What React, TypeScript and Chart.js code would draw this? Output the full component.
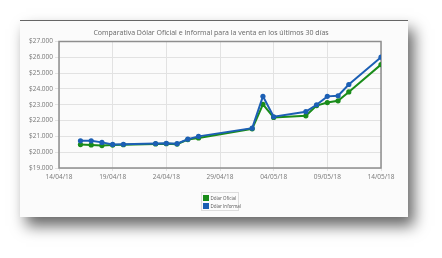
import React, { useEffect, useRef } from "react";
import { Chart, registerables } from "chart.js";

Chart.register(...registerables);

const chartTitle = "Comparativa Dólar Oficial e Informal para la venta en los últimos 30 días";
const startDate = "14/04/18";
const dates = [
  "16/04/18", "17/04/18", "18/04/18", "19/04/18", "20/04/18", "23/04/18", "24/04/18",
  "25/04/18", "26/04/18", "27/04/18", "02/05/18", "03/05/18", "04/05/18", "07/05/18",
  "08/05/18", "09/05/18", "10/05/18", "11/05/18", "14/05/18",
];
const oficial = [20480, 20460, 20420, 20450, 20470, 20520, 20540, 20510, 20800, 20900, 21480, 23030, 22200, 22300, 22950, 23140, 23250, 23810, 25540];
const informal = [20720, 20720, 20620, 20490, 20500, 20550, 20560, 20540, 20820, 21000, 21520, 23530, 22240, 22560, 23000, 23530, 23570, 24280, 26010];
const xTickLabels = ["14/04/18", "19/04/18", "24/04/18", "29/04/18", "04/05/18", "09/05/18", "14/05/18"];
const seriesNames = ["Dólar Oficial", "Dólar Informal"];
const seriesColors = ["#1a8c1a", "#1c5fb4"];

function dayIndex(d: string): number {
  const [dd, mm, yy] = d.split("/").map(Number);
  const [sd, sm, sy] = startDate.split("/").map(Number);
  return Math.round((Date.UTC(2000 + yy, mm - 1, dd) - Date.UTC(2000 + sy, sm - 1, sd)) / 86400000);
}

function fmtMoney(v: number): string {
  return "$" + String(v).replace(/\B(?=(\d{3})+(?!\d))/g, ".");
}

const plotBorder = {
  id: "plotBorder",
  beforeDatasetsDraw(chart: any) {
    const { ctx, chartArea } = chart;
    ctx.save();
    ctx.strokeStyle = "#8e8e8e";
    ctx.lineWidth = 1.5;
    ctx.strokeRect(chartArea.left, chartArea.top, chartArea.right - chartArea.left, chartArea.bottom - chartArea.top);
    ctx.restore();
  },
};

export default function App() {
  const ref = useRef<HTMLCanvasElement | null>(null);

  useEffect(() => {
    if (!ref.current) return;
    const tickFont = { family: "'Open Sans', sans-serif", size: 6.5 };
    const chart = new Chart(ref.current, {
      type: "line",
      data: {
        datasets: [
          {
            label: seriesNames[0],
            data: dates.map((d, i) => ({ x: dayIndex(d), y: oficial[i] })),
            borderColor: seriesColors[0],
            backgroundColor: seriesColors[0],
            borderWidth: 2,
            pointRadius: 2.6,
            pointBorderWidth: 0,
            tension: 0,
            order: 2,
          },
          {
            label: seriesNames[1],
            data: dates.map((d, i) => ({ x: dayIndex(d), y: informal[i] })),
            borderColor: seriesColors[1],
            backgroundColor: seriesColors[1],
            borderWidth: 2,
            pointRadius: 2.6,
            pointBorderWidth: 0,
            tension: 0,
            order: 1,
          },
        ],
      },
      options: {
        responsive: false,
        animation: false,
        devicePixelRatio: 1,
        layout: { padding: 0 },
        plugins: {
          legend: { display: false },
          tooltip: { enabled: false },
          title: {
            display: true,
            text: chartTitle,
            color: "#666",
            font: { family: "'Open Sans', sans-serif", size: 7, weight: "normal" as any },
            padding: { top: 8.5, bottom: 4.6 },
          },
        },
        scales: {
          x: {
            type: "linear",
            min: 0,
            max: 30,
            ticks: {
              stepSize: 5,
              color: "#777",
              font: tickFont,
              padding: 2,
              maxRotation: 0,
              callback: (v: any) => xTickLabels[Math.round(Number(v) / 5)] ?? "",
            },
            grid: { color: "#e2e2e2", tickLength: 3, lineWidth: 1 },
            border: { display: false },
            afterFit: (s: any) => {
              s.height = 49;
              s.paddingRight = 27;
              s.paddingLeft = 0;
            },
          },
          y: {
            min: 19000,
            max: 27000,
            ticks: {
              stepSize: 1000,
              color: "#777",
              font: tickFont,
              padding: 2,
              callback: (v: any) => fmtMoney(Number(v)),
            },
            grid: { color: "#e2e2e2", tickLength: 4, lineWidth: 1 },
            border: { display: false },
            afterFit: (s: any) => {
              s.width = 45;
              s.paddingTop = 0;
              s.paddingBottom = 0;
            },
          },
        },
      },
      plugins: [plotBorder],
    });
    return () => chart.destroy();
  }, []);

  return (
    <div style={{ position: "absolute", left: 0, top: 0, width: 442, height: 258, background: "#ffffff", overflow: "hidden" }}>
      <div
        style={{
          position: "absolute",
          left: 20,
          top: 20,
          width: 388,
          height: 197,
          background: "#fbfbfb",
          borderTop: "1px solid #666",
          boxSizing: "border-box",
          boxShadow: "6px 9px 14px rgba(0,0,0,0.6)",
        }}
      />
      <canvas
        ref={ref}
        width={394}
        height={197}
        style={{ position: "absolute", left: 14, top: 20, width: 394, height: 197 }}
      />
      <div
        style={{
          position: "absolute",
          left: 201,
          top: 192,
          width: 38,
          height: 19,
          border: "1px solid #ddd",
          boxSizing: "border-box",
          fontFamily: "'Open Sans', sans-serif",
          fontSize: 4.5,
          color: "#555",
          lineHeight: "8px",
          padding: "1px 0 0 1px",
        }}
      >
        {seriesNames.map((n, i) => (
          <div key={n} style={{ display: "flex", alignItems: "center", height: 8 }}>
            <span style={{ display: "inline-block", flex: "none", width: 6, height: 6, background: seriesColors[i], marginRight: 1.5 }} />
            <span style={{ whiteSpace: "nowrap" }}>{n}</span>
          </div>
        ))}
      </div>
    </div>
  );
}
